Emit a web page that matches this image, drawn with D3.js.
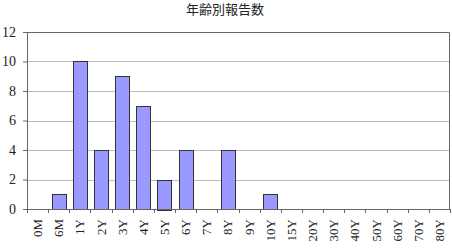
<!DOCTYPE html>
<html>
<head>
<meta charset="utf-8">
<script src="https://cdn.jsdelivr.net/npm/d3@7"></script>
<style>
  body { margin: 0; background: #fff; }
  svg { display: block; }
  .serif { font-family: "Liberation Serif", "DejaVu Serif", "Times New Roman", serif; }
</style>
</head>
<body>
<div id="chart"></div>
<script>
var categories = ["0M","6M","1Y","2Y","3Y","4Y","5Y","6Y","7Y","8Y","9Y","10Y","15Y","20Y","30Y","40Y","50Y","60Y","70Y","80Y"];
var counts = [0,1,10,4,9,7,2,4,0,4,0,1,0,0,0,0,0,0,0,0];
var yTicks = [0,2,4,6,8,10,12];
var title = "年齢別報告数";

var width = 452, height = 249;
var margin = {top: 32, right: 2, bottom: 40, left: 27};
var innerW = width - margin.left - margin.right,
    innerH = height - margin.top - margin.bottom;

var svg = d3.select("#chart").append("svg")
    .attr("width", width)
    .attr("height", height);

svg.append("text")
    .attr("x", 225)
    .attr("y", 14)
    .attr("text-anchor", "middle")
    .style("font-family", "'Noto Sans CJK JP', sans-serif")
    .style("font-size", "13px")
    .style("fill", "#222")
    .text(title);

var g = svg.append("g")
    .attr("transform", "translate(" + margin.left + "," + margin.top + ")");

var x = d3.scaleBand()
    .domain(categories)
    .range([0, innerW])
    .paddingInner(0.34)
    .paddingOuter(0.17);

var y = d3.scaleLinear()
    .domain([0, 12])
    .range([innerH, 0]);

// gridlines
g.selectAll(".grid")
    .data(yTicks.filter(function(d) { return d > 0 && d < 12; }))
    .enter().append("line")
    .attr("x1", 0)
    .attr("x2", innerW)
    .attr("y1", function(d) { return Math.round(y(d)) + 0.5; })
    .attr("y2", function(d) { return Math.round(y(d)) + 0.5; })
    .style("stroke", "#bcbcbc")
    .style("stroke-width", 1);

// frame top and right
g.append("path")
    .attr("d", "M0,0.5H" + (innerW - 0.5) + "V" + innerH)
    .style("fill", "none")
    .style("stroke", "#666")
    .style("stroke-width", 1);

// bars
g.selectAll(".bar")
    .data(categories)
    .enter().append("rect")
    .attr("class", "bar")
    .filter(function(d, i) { return counts[i] > 0; })
    .attr("x", function(d) { return Math.round(x(d)) + 0.5; })
    .attr("width", Math.round(x.bandwidth()))
    .attr("y", function(d) { return Math.round(y(counts[categories.indexOf(d)])) + 0.5; })
    .attr("height", function(d) { return Math.round(innerH - y(counts[categories.indexOf(d)])); })
    .style("fill", "#9999ff")
    .style("stroke", "#333")
    .style("stroke-width", 1);

// y axis
var yAxis = g.append("g")
    .call(d3.axisLeft(y).tickValues(yTicks).tickSize(4).tickPadding(7));
yAxis.attr("font-family", null).attr("class", "serif");
yAxis.select(".domain").attr("d", "M0.5,0V" + innerH).style("stroke", "#666");
yAxis.selectAll(".tick line").style("stroke", "#666");
yAxis.selectAll("text")
    .attr("class", "serif")
    .style("font-size", "14px")
    .style("fill", "#222");

// x axis
var xAxis = g.append("g")
    .attr("transform", "translate(0," + innerH + ")")
    .call(d3.axisBottom(x).tickSize(0));
xAxis.attr("font-family", null).attr("class", "serif");
xAxis.select(".domain").attr("d", "M0," + 0.5 + "H" + innerW).style("stroke", "#666");
xAxis.selectAll(".sep")
    .data(d3.range(categories.length + 1))
    .enter().append("line")
    .attr("x1", function(i) { return Math.round(i * innerW / categories.length) + 0.5; })
    .attr("x2", function(i) { return Math.round(i * innerW / categories.length) + 0.5; })
    .attr("y1", 0)
    .attr("y2", 4)
    .style("stroke", "#666");
xAxis.selectAll(".tick text")
    .attr("class", "serif")
    .attr("transform", "rotate(-90)")
    .attr("x", -10)
    .attr("y", 0)
    .attr("dy", "0.35em")
    .style("text-anchor", "end")
    .style("font-size", "13px")
    .style("fill", "#222");
</script>
</body>
</html>
